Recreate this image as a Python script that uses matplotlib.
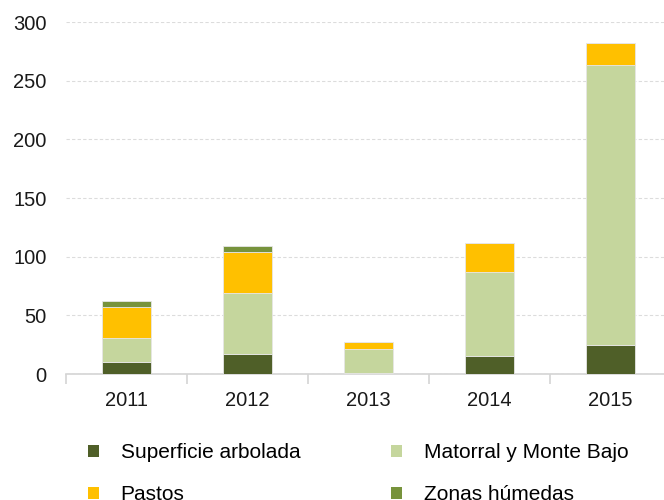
import matplotlib
matplotlib.use("Agg")
from matplotlib import pyplot as plt
from matplotlib import rcParams
from matplotlib.ticker import FixedLocator
from matplotlib.patches import Patch
import numpy as np

years = ['2011', '2012', '2013', '2014', '2015']
arbolada = [10, 17, 1, 15, 25]
matorral = [21, 52, 20, 72, 238]
pastos = [26, 35, 6, 25, 19]
humedas = [5, 5, 0, 0, 0]

labels = ['Superficie arbolada', 'Matorral y Monte Bajo', 'Pastos', 'Zonas húmedas']
colors = ['#4f5f28', '#c5d69d', '#ffc000', '#77933c']

rcParams["font.family"] = ["Liberation Sans", "DejaVu Sans"]

fig = plt.figure(figsize=(6.64, 5.0), dpi=100)
ax = fig.add_axes([66/664, 1-374/500, 605/664, 352/500])

x = np.arange(len(years))
bottom = np.zeros(len(years))
for vals, c in zip([arbolada, matorral, pastos, humedas], colors):
    ax.bar(x, vals, width=0.4, bottom=bottom, color=c, edgecolor='#e6e6e6',
           linewidth=0.6, zorder=3)
    bottom += np.array(vals)

ax.set_xlim(-0.5, len(years) - 0.5)
ax.set_ylim(0, 300)
ax.set_yticks(range(0, 301, 50))
ax.set_xticks(x)
ax.set_xticklabels(years)
ax.xaxis.set_minor_locator(FixedLocator(np.arange(-0.5, len(years), 1)))

ax.grid(axis='y', color='#dcdcdc', linestyle=(0, (3, 2)), linewidth=0.8, zorder=0)
for s in ['top', 'right', 'left']:
    ax.spines[s].set_visible(False)
ax.spines['bottom'].set_color('#d4d4d4')
ax.spines['bottom'].set_linewidth(1.2)

ax.tick_params(axis='y', length=0, pad=14, labelsize=14.5, labelcolor='#1a1a1a')
ax.tick_params(axis='x', which='major', length=0, pad=12, labelsize=14.5, labelcolor='#1a1a1a')
ax.tick_params(axis='x', which='minor', length=7, width=1.2, color='#d4d4d4')

# two legend columns, filled row by row
handles = [Patch(facecolor=c, edgecolor='none') for c in colors]
leg_kw = dict(loc='upper left', frameon=False, fontsize=15, handlelength=0.5,
              handleheight=0.5, handletextpad=1.05, labelspacing=1.1, borderpad=0)
fig.legend([handles[0], handles[2]], [labels[0], labels[2]],
           bbox_to_anchor=(78/664, 1-433/500), **leg_kw)
fig.legend([handles[1], handles[3]], [labels[1], labels[3]],
           bbox_to_anchor=(381/664, 1-433/500), **leg_kw)

plt.savefig('out.png', dpi=100)
